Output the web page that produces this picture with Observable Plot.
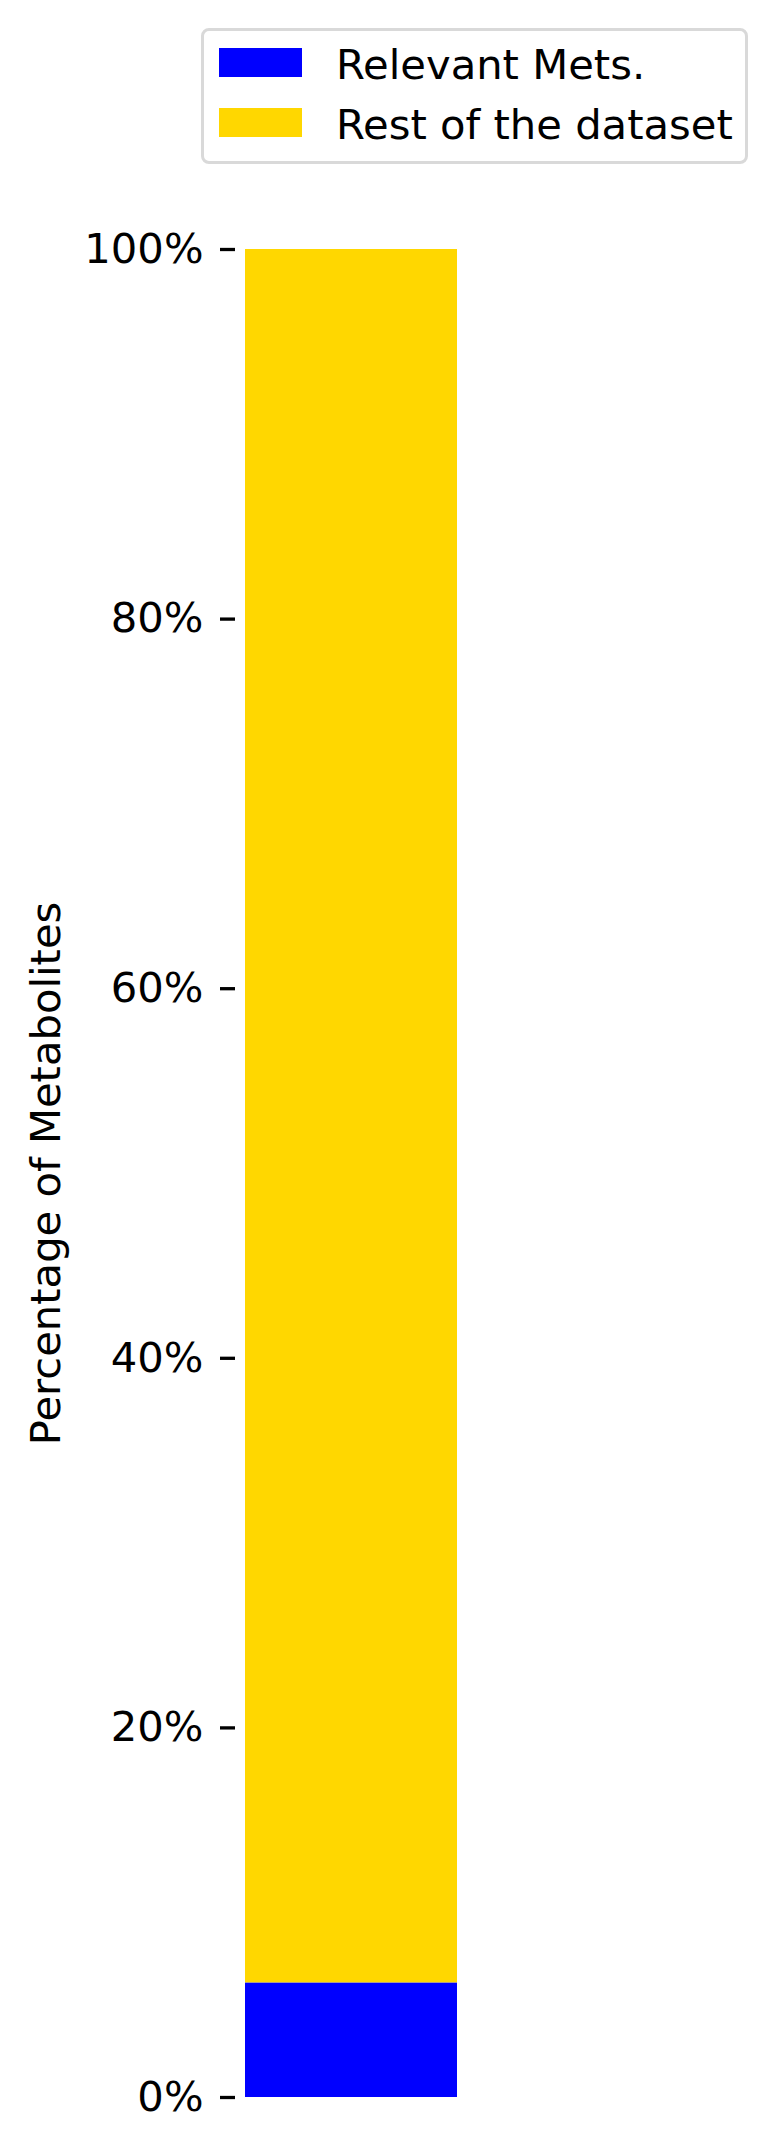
<!DOCTYPE html>
<html>
<head>
<meta charset="utf-8">
<script src="https://cdn.jsdelivr.net/npm/d3@7"></script>
<script src="https://cdn.jsdelivr.net/npm/@observablehq/plot@0.6"></script>
<style>
  html, body { margin: 0; padding: 0; background: #fff; }
  body { width: 778px; font-family: "DejaVu Sans", sans-serif; }
  #legend { position: relative; width: 778px; height: 180px; }
  #legend .box { position: absolute; left: 201px; top: 28px; width: 541px; height: 130px;
    border: 3px solid #d9d9d9; border-radius: 8px; box-sizing: content-box; }
  #legend .sw { position: absolute; left: 219px; width: 83px; height: 29px; }
  #legend .lab { position: absolute; left: 336px; font-size: 41.7px; line-height: 41.7px; color: #000; white-space: nowrap; }
  #chart svg { display: block; }
</style>
</head>
<body>
<div id="legend"></div>
<div id="chart"></div>
<script>
const categories = ["Metabolites"];
const seriesNames = ["Relevant Mets.", "Rest of the dataset"];
const seriesValues = [0.062, 0.938];
const seriesColors = ["#0000ff", "#ffd700"];
const yTicks = [0, 0.2, 0.4, 0.6, 0.8, 1.0];
const yLabel = "Percentage of Metabolites";

const data = seriesNames.map((s, i) => ({group: categories[0], series: s, value: seriesValues[i]}));

// legend (HTML, above the SVG)
const leg = document.getElementById("legend");
leg.innerHTML = `<div class="box"></div>` + seriesNames.map((s, i) => {
  const top = 48 + i * 60;
  return `<div class="sw" style="top:${top}px;background:${seriesColors[i]}"></div>
          <div class="lab" style="top:${top - 4.5}px">${s}</div>`;
}).join("");

const chart = Plot.plot({
  width: 778,
  height: 1971,
  marginLeft: 245,
  marginRight: 321,
  marginTop: 69,
  marginBottom: 54,
  style: {fontFamily: "DejaVu Sans, sans-serif", fontSize: "40px", background: "#fff"},
  x: {domain: categories, padding: 0, axis: null},
  y: {domain: [0, 1], axis: null},
  color: {domain: seriesNames, range: seriesColors},
  marks: [
    Plot.barY(data, {x: "group", y: "value", fill: "series", insetLeft: 0, insetRight: 0}),
    Plot.axisY({ticks: yTicks, tickFormat: d => Math.round(d * 100) + "%", tickSize: 15, tickPadding: 17,
      dx: -10, strokeWidth: 3.3, fontSize: 41.7, label: null, color: "#000"}),
    Plot.text([yLabel], {frameAnchor: "left", rotate: -90, dx: -199, lineAnchor: "middle", textAnchor: "middle",
      fontSize: 41.7, fill: "#000"})
  ]
});
document.getElementById("chart").appendChild(chart);
</script>
</body>
</html>
